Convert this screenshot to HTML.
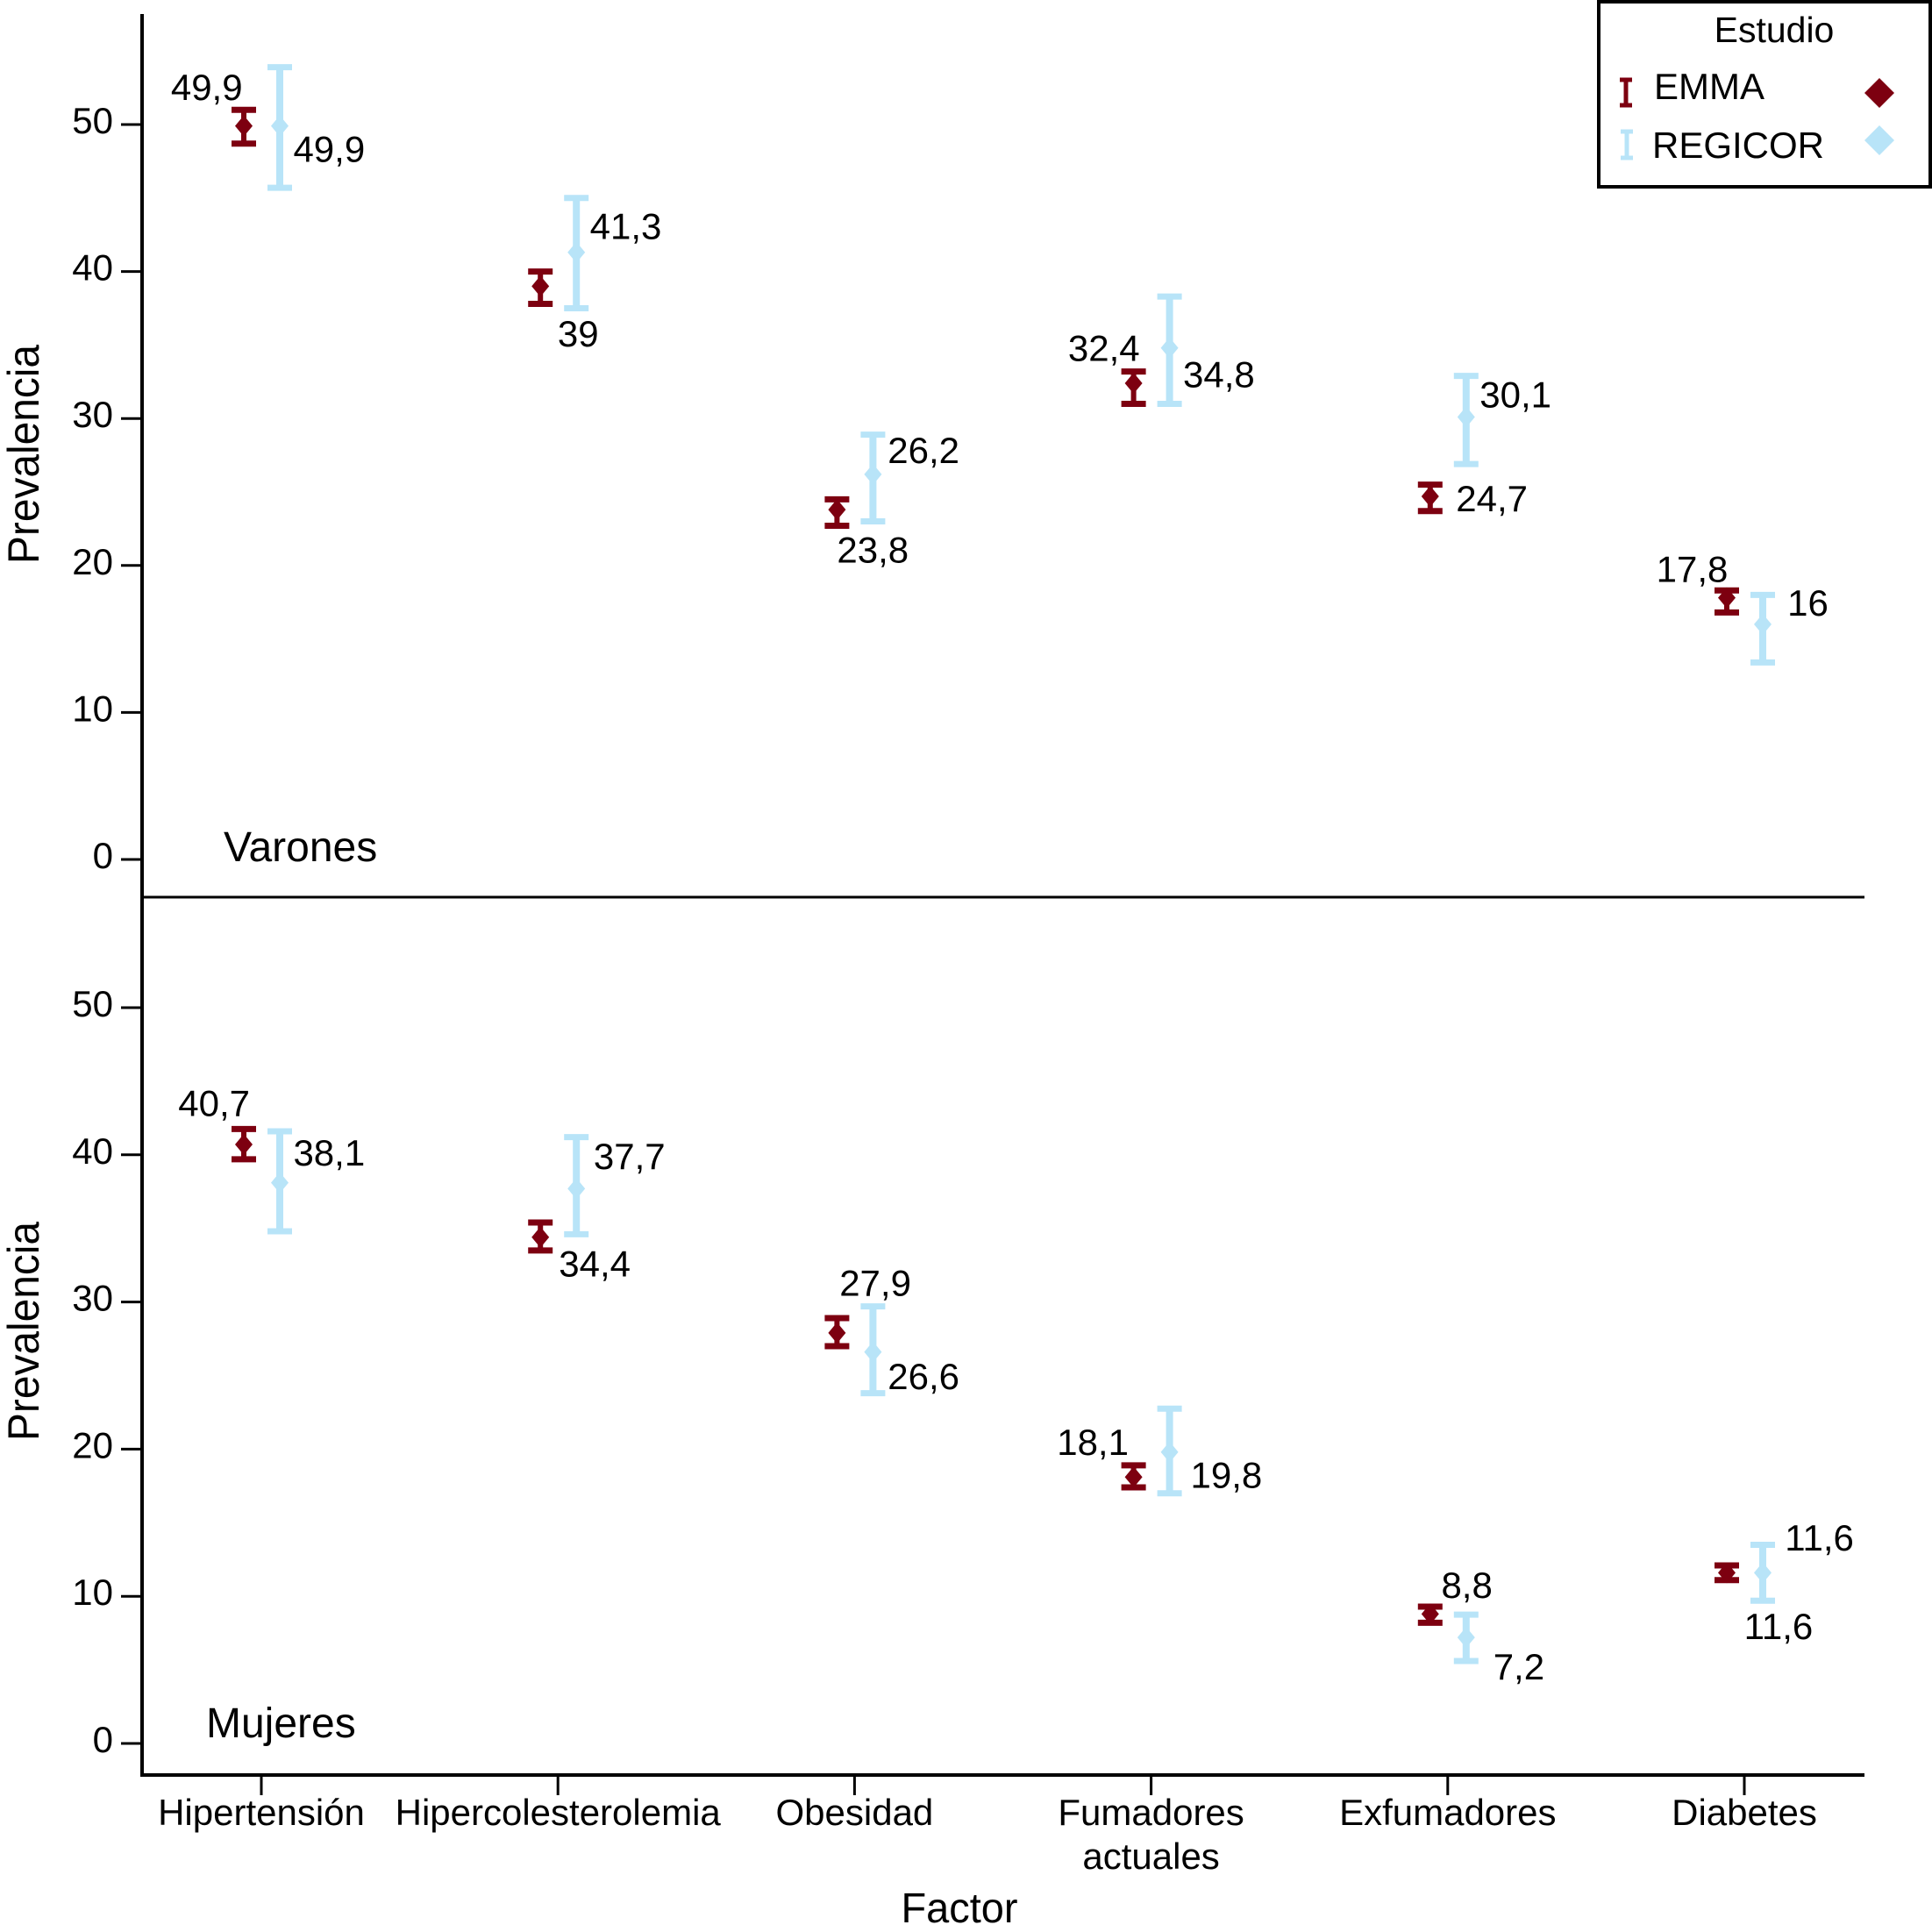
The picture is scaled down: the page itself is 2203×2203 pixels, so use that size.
<!DOCTYPE html>
<html><head><meta charset="utf-8"><style>
html,body{margin:0;padding:0;background:#fff;}
svg{display:block;font-family:"Liberation Sans",Arial,sans-serif;}
</style></head><body>
<svg id="chart" width="2203" height="2203" viewBox="0 0 2203 2203" xmlns="http://www.w3.org/2000/svg">
<rect width="2203" height="2203" fill="#fff"/>
<g id="axes"></g>
<g id="marks"></g>
<g id="legend">
  <rect x="1823" y="2" width="378" height="211" fill="#fff" stroke="#000" stroke-width="4"/>
  <text x="2023" y="48" font-size="41" text-anchor="middle">Estudio</text>
  <g>
    <line x1="1854" y1="91" x2="1854" y2="120" stroke="#7d0010" stroke-width="5"/>
    <line x1="1847" y1="91" x2="1861" y2="91" stroke="#7d0010" stroke-width="5"/>
    <line x1="1847" y1="120" x2="1861" y2="120" stroke="#7d0010" stroke-width="5"/>
    <text x="1886" y="113" font-size="42">EMMA</text>
    <polygon points="2143,89 2160,106 2143,123 2126,106" fill="#7d0010"/>
  </g>
  <g>
    <line x1="1855" y1="150" x2="1855" y2="180" stroke="#b8e4f8" stroke-width="5"/>
    <line x1="1848" y1="150" x2="1862" y2="150" stroke="#b8e4f8" stroke-width="5"/>
    <line x1="1848" y1="180" x2="1862" y2="180" stroke="#b8e4f8" stroke-width="5"/>
    <text x="1884" y="180" font-size="42">REGICOR</text>
    <polygon points="2143,143 2160,160 2143,177 2126,160" fill="#b8e4f8"/>
  </g>
</g>
</svg>
<script>
const categories = ["Hipertensión","Hipercolesterolemia","Obesidad","Fumadores actuales","Exfumadores","Diabetes"];
const yTicks = [0,10,20,30,40,50];
// Varones
const menEmma = [49.9,39,23.8,32.4,24.7,17.8];
const menEmmaLo = [48.7,37.8,22.7,31.0,23.7,16.8];
const menEmmaHi = [51.0,40.0,24.5,33.2,25.5,18.3];
const menReg = [49.9,41.3,26.2,34.8,30.1,16];
const menRegLo = [45.7,37.5,23.0,31.0,26.9,13.4];
const menRegHi = [53.9,45.0,28.9,38.3,32.9,18.0];
const menEmmaLabels = ["49,9","39","23,8","32,4","24,7","17,8"];
const menRegLabels = ["49,9","41,3","26,2","34,8","30,1","16"];
// Mujeres
const womenEmma = [40.7,34.4,27.9,18.1,8.8,11.6];
const womenEmmaLo = [39.7,33.5,27.0,17.4,8.2,11.1];
const womenEmmaHi = [41.75,35.4,28.9,18.9,9.3,12.1];
const womenReg = [38.1,37.7,26.6,19.8,7.2,11.6];
const womenRegLo = [34.8,34.6,23.8,17.0,5.6,9.7];
const womenRegHi = [41.6,41.2,29.7,22.75,8.75,13.5];
const womenEmmaLabels = ["40,7","34,4","27,9","18,1","8,8","11,6"];
const womenRegLabels = ["38,1","37,7","26,6","19,8","7,2","11,6"];
// label placement (style, not data): [dx, dy, anchor] in reference display units
const menEmmaPlace = [[-1,-21,"end"],[14,49,"start"],[0,43,"start"],[5,-18,"end"],[21,12,"start"],[1,-13,"end"]];
const menRegPlace = [[11,29,"start"],[11,-11,"start"],[12,-9,"start"],[11,32,"start"],[11,-8,"start"],[20,-7,"start"]];
const womenEmmaPlace = [[5,-23,"end"],[15,32,"start"],[2,-30,"start"],[-4,-18,"end"],[9,-13,"start"],[14,54,"start"]];
const womenRegPlace = [[11,-14,"start"],[14,-16,"start"],[12,30,"start"],[17,29,"start"],[22,34,"start"],[18,-18,"start"]];

const NS="http://www.w3.org/2000/svg";
const S=1.405;
const axisX=162, axisRight=2126;
const catX0=298, catStep=338.2;
function xCat(i){return catX0+i*catStep;}
function yTop(v){return 980 - v*16.76;}
function yBot(v){return 1988 - v*16.78;}
function mk(tag,attrs,parent){const e=document.createElementNS(NS,tag);for(const k in attrs)e.setAttribute(k,attrs[k]);parent.appendChild(e);return e;}
const axes=document.getElementById('axes');
const marks=document.getElementById('marks');

const yAxis=mk('line',{x1:axisX,y1:16,x2:axisX,y2:2026,stroke:'#000','stroke-width':4},axes);


const sep=mk('line',{x1:axisX,y1:1023,x2:axisRight,y2:1023,stroke:'#000','stroke-width':3},axes);


const xAxis=mk('line',{x1:axisX,y1:2024,x2:axisRight,y2:2024,stroke:'#000','stroke-width':4},axes);



[yTop,yBot].forEach((yf,p)=>{
  yTicks.forEach(t=>{
    const y=yf(t);
    const tk=mk('line',{x1:138,y1:y,x2:axisX,y2:y,stroke:'#000','stroke-width':3},axes);
    
    
    const tl=mk('text',{x:129,y:y+10,'font-size':42,'text-anchor':'end'},axes);
    tl.textContent=String(t);
    
    
  });
  const ty=p===0?518:1518;
  const tt=mk('text',{x:0,y:0,'font-size':50,'text-anchor':'middle',textLength:250,lengthAdjust:'spacingAndGlyphs',transform:`translate(44,${ty}) rotate(-90)`},axes);
  tt.textContent='Prevalencia';
  
  
});

const pv=mk('text',{x:255,y:982,'font-size':48},axes);
pv.textContent='Varones';


const pm=mk('text',{x:235,y:1981,'font-size':48},axes);
pm.textContent='Mujeres';



categories.forEach((c,i)=>{
  const x=xCat(i);
  const tk=mk('line',{x1:x,y1:2024,x2:x,y2:2047,stroke:'#000','stroke-width':3},axes);
  
  
  const words=c==="Fumadores actuales"?["Fumadores","actuales"]:[c];
  words.forEach((w,k)=>{
    const t=mk('text',{x:x,y:2081+k*50,'font-size':42,'text-anchor':'middle'},axes);
    t.textContent=w;
    
    
  });
});
const xt=mk('text',{x:1094,y:2192,'font-size':48,'text-anchor':'middle',textLength:133,lengthAdjust:'spacingAndGlyphs'},axes);
xt.textContent='Factor';



function series(vals,lo,hi,labels,place,yf,dx,color,isReg,name){
  vals.forEach((v,i)=>{
    const cx=xCat(i)+dx;
    const g=mk('g',{},marks);
    
    
    const y1=yf(hi[i]), y2=yf(lo[i]), y=yf(v);
    const sw=isReg?8:6;
    mk('line',{x1:cx,y1:y1,x2:cx,y2:y2,stroke:color,'stroke-width':sw},g);
    mk('line',{x1:cx-14,y1:y1,x2:cx+14,y2:y1,stroke:color,'stroke-width':7},g);
    mk('line',{x1:cx-14,y1:y2,x2:cx+14,y2:y2,stroke:color,'stroke-width':7},g);
    mk('polygon',{points:`${cx},${y-12} ${cx+10},${y} ${cx},${y+12} ${cx-10},${y}`,fill:color},g);
    const p=place[i];
    const t=mk('text',{x:cx+p[0]*S,y:y+p[1]*S,'font-size':42,'text-anchor':p[2]},marks);
    t.textContent=labels[i];
    
    
  });
}
const RED='#7d0010', BLUE='#b8e4f8';
series(menEmma,menEmmaLo,menEmmaHi,menEmmaLabels,menEmmaPlace,yTop,-20,RED,false,'varones-emma');
series(menReg,menRegLo,menRegHi,menRegLabels,menRegPlace,yTop,21,BLUE,true,'varones-regicor');
series(womenEmma,womenEmmaLo,womenEmmaHi,womenEmmaLabels,womenEmmaPlace,yBot,-20,RED,false,'mujeres-emma');
series(womenReg,womenRegLo,womenRegHi,womenRegLabels,womenRegPlace,yBot,21,BLUE,true,'mujeres-regicor');
</script>
</body></html>
